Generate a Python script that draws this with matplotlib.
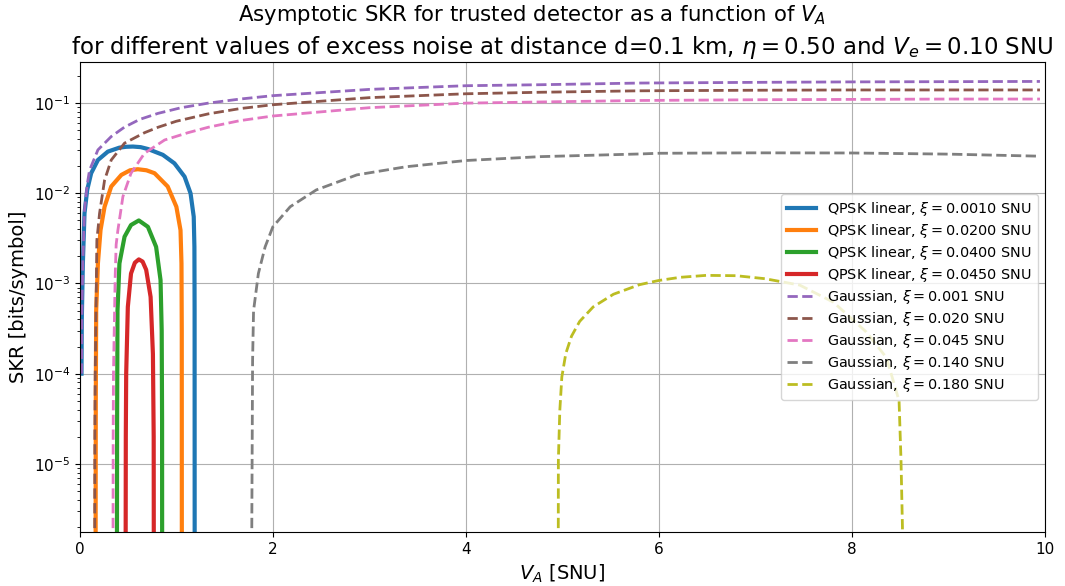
import matplotlib
matplotlib.use("Agg")
import matplotlib.pyplot as plt

# ---------------------------
# Data (V_A in SNU, SKR in bits/symbol)
# 1e-7 marks the points where the key rate falls to zero (below the axis)
# ---------------------------

# QPSK linear curves
qpsk_001_x = [0.017, 0.020, 0.031, 0.048, 0.076, 0.117, 0.187, 0.29, 0.41, 0.48, 0.55, 0.63, 0.705, 0.86,
              0.98, 1.085, 1.147, 1.18, 1.187, 1.189, 1.190]
qpsk_001_y = [1e-4, 4e-4, 1.67e-3, 6e-3, 0.0109, 0.0167, 0.0234, 0.029, 0.0321, 0.0328, 0.033, 0.0325,
              0.031, 0.0267, 0.0215, 0.0153, 0.010, 5.5e-3, 2.55e-3, 5e-4, 1e-7]

qpsk_020_x = [0.162, 0.165, 0.169, 0.187, 0.214, 0.256, 0.325, 0.43, 0.52, 0.60, 0.69, 0.774, 0.91, 1.0,
              1.043, 1.053, 1.056, 1.057]
qpsk_020_y = [1e-7, 5e-5, 5e-4, 1.67e-3, 3.9e-3, 7.1e-3, 0.0119, 0.016, 0.0180, 0.0185, 0.0180, 0.0167,
              0.0119, 7.1e-3, 3.9e-3, 1.67e-3, 3e-4, 1e-7]

qpsk_040_x = [0.383, 0.386, 0.39, 0.41, 0.463, 0.53, 0.611, 0.705, 0.79, 0.836, 0.848, 0.852, 0.853]
qpsk_040_y = [1e-7, 3e-5, 5e-4, 1.67e-3, 3.3e-3, 4.45e-3, 5e-3, 4.25e-3, 2.55e-3, 1.09e-3, 3e-4, 3e-5, 1e-7]

qpsk_045_x = [0.473, 0.476, 0.48, 0.497, 0.53, 0.57, 0.611, 0.65, 0.687, 0.733, 0.757, 0.765, 0.767]
qpsk_045_y = [1e-7, 2e-5, 1e-4, 5.5e-4, 1.29e-3, 1.7e-3, 1.85e-3, 1.75e-3, 1.42e-3, 7.1e-4, 1.65e-4,
              2e-5, 1e-7]

# Gaussian curves
gauss_001_x = [0.017, 0.020, 0.031, 0.048, 0.076, 0.10, 0.187, 0.325, 0.46, 0.62, 0.81, 1.05, 1.33,
               1.66, 2.0, 3.0, 4.0, 4.77, 5.8, 7.0, 8.0, 9.0, 9.95]
gauss_001_y = [1e-4, 4e-4, 1.8e-3, 6.5e-3, 0.0125, 0.018, 0.0303, 0.0426, 0.054, 0.066, 0.077, 0.089,
               0.100, 0.111, 0.121, 0.142, 0.156, 0.160, 0.167, 0.170, 0.172, 0.173, 0.174]

gauss_020_x = [0.152, 0.155, 0.159, 0.176, 0.204, 0.256, 0.325, 0.463, 0.67, 0.81, 1.0, 1.33, 1.66,
               2.0, 3.0, 4.0, 4.77, 5.8, 7.0, 8.0, 9.0, 9.95]
gauss_020_y = [1e-7, 2e-5, 1e-4, 3e-3, 6e-3, 0.014, 0.0234, 0.036, 0.047, 0.054, 0.063, 0.076, 0.087,
               0.096, 0.115, 0.127, 0.132, 0.137, 0.139, 0.140, 0.140, 0.140]

gauss_045_x = [0.342, 0.345, 0.348, 0.366, 0.376, 0.394, 0.446, 0.53, 0.67, 0.878, 1.12, 1.33, 1.66,
               2.0, 3.0, 4.0, 4.77, 5.8, 7.0, 8.0, 9.0, 9.95]
gauss_045_y = [1e-7, 2e-5, 1e-4, 1.2e-3, 2.7e-3, 3.9e-3, 9.2e-3, 0.0167, 0.0278, 0.039, 0.047, 0.054,
               0.064, 0.072, 0.089, 0.100, 0.103, 0.107, 0.109, 0.110, 0.111, 0.111]

gauss_140_x = [1.776, 1.79, 1.80, 1.85, 1.92, 2.0, 2.18, 2.45, 2.87, 3.38, 4.0, 4.77, 5.8, 6.0, 7.0,
               8.0, 9.0, 9.95]
gauss_140_y = [1e-7, 1.4e-4, 5e-4, 1.29e-3, 2.55e-3, 4.25e-3, 7.1e-3, 0.0109, 0.016, 0.0197, 0.0231,
               0.0255, 0.0273, 0.0278, 0.0281, 0.028, 0.0272, 0.0258]

gauss_180_x = [4.957, 4.959, 4.974, 4.995, 5.036, 5.095, 5.18, 5.32, 5.53, 5.80, 6.0, 6.22, 6.49,
               6.8, 7.1, 7.46, 7.81, 8.15, 8.36, 8.49, 8.51, 8.525, 8.53]
gauss_180_y = [1e-7, 1.1e-5, 3.9e-5, 9.2e-5, 1.67e-4, 2.6e-4, 3.8e-4, 5.5e-4, 7.6e-4, 9.7e-4, 1.08e-3,
               1.17e-3, 1.23e-3, 1.22e-3, 1.13e-3, 9.6e-4, 6.2e-4, 2.9e-4, 1.5e-4, 5e-5, 1.1e-5, 2e-6, 1e-7]

qpsk_labels = ["QPSK linear, $\\xi = 0.0010$ SNU", "QPSK linear, $\\xi = 0.0200$ SNU",
               "QPSK linear, $\\xi = 0.0400$ SNU", "QPSK linear, $\\xi = 0.0450$ SNU"]
gauss_labels = ["Gaussian, $\\xi = 0.001$ SNU", "Gaussian, $\\xi = 0.020$ SNU",
                "Gaussian, $\\xi = 0.045$ SNU", "Gaussian, $\\xi = 0.140$ SNU",
                "Gaussian, $\\xi = 0.180$ SNU"]

qpsk_curves = [(qpsk_001_x, qpsk_001_y), (qpsk_020_x, qpsk_020_y),
               (qpsk_040_x, qpsk_040_y), (qpsk_045_x, qpsk_045_y)]
gauss_curves = [(gauss_001_x, gauss_001_y), (gauss_020_x, gauss_020_y),
                (gauss_045_x, gauss_045_y), (gauss_140_x, gauss_140_y),
                (gauss_180_x, gauss_180_y)]

# ---------------------------
# Plot
# ---------------------------

fig, ax = plt.subplots(figsize=(10.65, 5.86), dpi=100)
fig.subplots_adjust(left=0.075, right=0.981, top=0.894, bottom=0.092)

colors = plt.rcParams["axes.prop_cycle"].by_key()["color"]

for i, (xs, ys) in enumerate(qpsk_curves):
    ax.plot(xs, ys, color=colors[i], lw=3, label=qpsk_labels[i])

for j, (xs, ys) in enumerate(gauss_curves):
    ax.plot(xs, ys, color=colors[4 + j], lw=2, ls="--", label=gauss_labels[j])

ax.set_yscale("log")
ax.set_xlim(0, 10)
ax.set_ylim(1.75e-6, 0.285)
ax.grid(True)

ax.set_xlabel("$V_A$ [SNU]", fontsize=14)
ax.set_ylabel("SKR [bits/symbol]", fontsize=14)
fig.suptitle("Asymptotic SKR for trusted detector as a function of $V_A$", fontsize=15.3, y=0.995)
ax.set_title("for different values of excess noise at distance d=0.1 km, "
             "$\\eta = 0.50$ and $V_e = 0.10$ SNU", fontsize=16.5)
ax.tick_params(labelsize=11)
ax.legend(loc="center right", fontsize=10.4, labelspacing=0.28)

plt.savefig("out.png")
